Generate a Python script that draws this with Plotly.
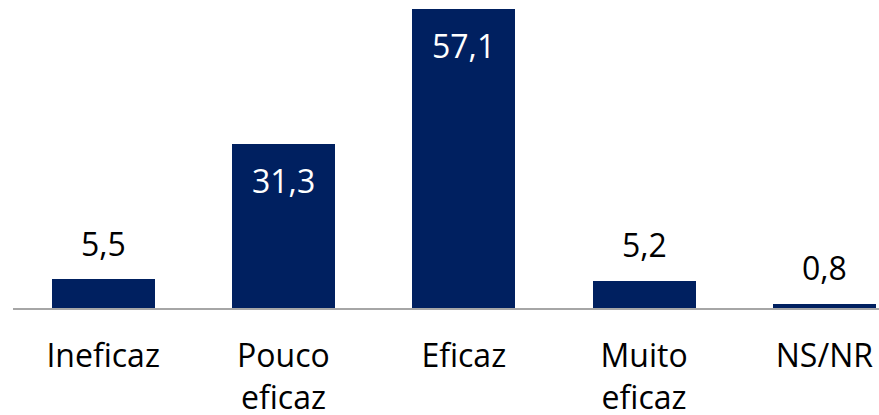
import plotly.graph_objects as go

categories = ["Ineficaz", "Pouco<br>eficaz", "Eficaz", "Muito<br>eficaz", "NS/NR"]
values = [5.5, 31.3, 57.1, 5.2, 0.8]
labels = ["5,5", "31,3", "57,1", "5,2", "0,8"]
inside = [False, True, True, False, False]

FONT = "Open Sans"
NAVY = "#002060"

fig = go.Figure(go.Bar(
    x=list(range(len(categories))), y=values,
    marker=dict(color=NAVY, line=dict(width=0)),
    width=0.571, hoverinfo="skip",
))

for i, (v, t, ins) in enumerate(zip(values, labels, inside)):
    fig.add_annotation(
        x=i, y=v, text=t, showarrow=False,
        yshift=-36 if ins else 36,
        font=dict(family=FONT, size=32, color="white" if ins else "black"),
    )

fig.update_layout(
    width=879, height=415,
    margin=dict(l=13, r=0, t=0, b=107, autoexpand=False),
    paper_bgcolor="white", plot_bgcolor="white",
    showlegend=False,
    bargap=0,
)
fig.update_xaxes(
    range=[-0.5, 4.303], automargin=False,
    tickvals=list(range(len(categories))), ticktext=categories,
    tickfont=dict(family=FONT, size=32, color="black"),
    showgrid=False, zeroline=False,
    showline=True, linecolor="#a6a6a6", linewidth=2,
    ticks="", ticklabelstandoff=19,
)
fig.update_yaxes(
    range=[0, 58.9], visible=False, showgrid=False, zeroline=False, automargin=False,
)

fig.write_html(
    "out.html",
    config={"displayModeBar": False, "staticPlot": True},
    post_script="document.body.style.margin='0';document.body.style.overflow='hidden';",
)
